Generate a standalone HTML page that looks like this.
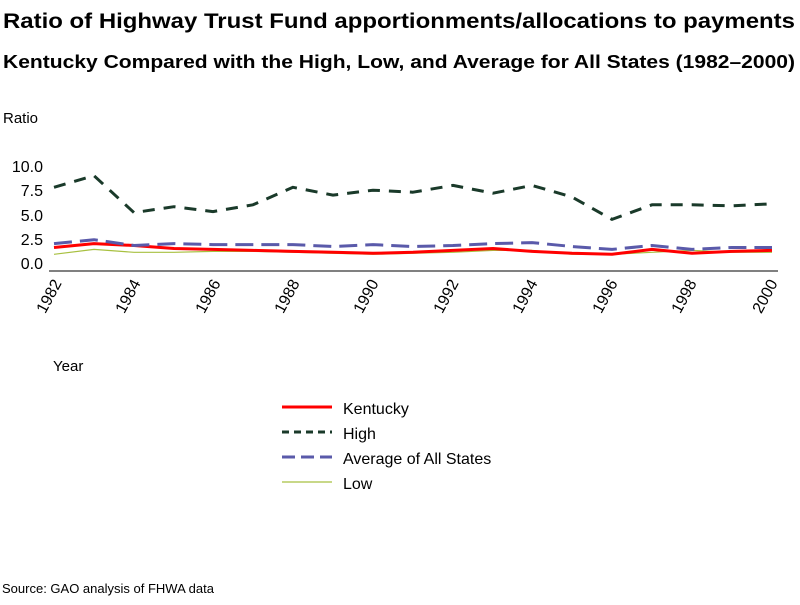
<!DOCTYPE html>
<html><head><meta charset="utf-8"><style>
body{margin:0;background:#fff;}
svg text{font-family:"Liberation Sans",sans-serif;fill:#000;}
</style></head><body>
<svg width="800" height="600" xmlns="http://www.w3.org/2000/svg">
<text x="3" y="28" font-size="21" font-weight="bold" textLength="792" lengthAdjust="spacingAndGlyphs">Ratio of Highway Trust Fund apportionments/allocations to payments</text>
<text x="3" y="68" font-size="18" font-weight="bold" textLength="792" lengthAdjust="spacingAndGlyphs">Kentucky Compared with the High, Low, and Average for All States (1982–2000)</text>
<text x="3" y="123" font-size="15">Ratio</text>
<g font-size="16" text-anchor="end">
<text x="43" y="172">10.0</text><text x="43" y="196">7.5</text><text x="43" y="221">5.0</text><text x="43" y="245">2.5</text><text x="43" y="269">0.0</text>
</g>
<line x1="49" y1="271" x2="778" y2="271" stroke="#000" stroke-width="1"/>
<g font-size="16" text-anchor="end">
<text transform="translate(62,283) rotate(-62)">1982</text>
<text transform="translate(141,283) rotate(-62)">1984</text>
<text transform="translate(221,283) rotate(-62)">1986</text>
<text transform="translate(300,283) rotate(-62)">1988</text>
<text transform="translate(379,283) rotate(-62)">1990</text>
<text transform="translate(459,283) rotate(-62)">1992</text>
<text transform="translate(538,283) rotate(-62)">1994</text>
<text transform="translate(618,283) rotate(-62)">1996</text>
<text transform="translate(697,283) rotate(-62)">1998</text>
<text transform="translate(778,283) rotate(-62)">2000</text>
</g>
<text x="53" y="371" font-size="15">Year</text>
<g fill="none" stroke-linejoin="round">
<polyline stroke="#a8c040" stroke-width="1.2" points="54,254.3 94,249.4 134,252.3 174,252.3 213,251.4 253,251.4 293,252.3 333,253.3 373,254.3 413,253.3 453,252.3 493,250.4 532,250.4 572,254.3 612,254.3 652,252.3 692,250.4 732,252.3 772,252.3"/>
<polyline stroke="#ff0000" stroke-width="3" points="54,247.5 94,243.6 134,245.5 174,248.5 213,249.4 253,250.4 293,251.4 333,252.3 373,253.3 413,252.3 453,250.4 493,248.5 532,251.4 572,253.3 612,254.3 652,249.4 692,253.3 732,251.4 772,250.4"/>
<polyline stroke="#5a5aaa" stroke-width="3" stroke-dasharray="18,8" points="54,243.6 94,239.7 134,245.5 174,243.6 213,244.6 253,244.6 293,244.6 333,246.5 373,244.6 413,246.5 453,245.5 493,243.6 532,242.6 572,246.5 612,249.4 652,245.5 692,249.4 732,247.5 772,247.5"/>
<polyline stroke="#1a3a2a" stroke-width="3" stroke-dasharray="12,9" points="54,187.3 94,175.7 134,212.6 174,206.7 213,211.6 253,204.8 293,187.3 333,195.1 373,190.2 413,192.2 453,185.4 493,193.2 532,185.4 572,197.0 612,219.4 652,204.8 692,204.8 732,205.8 772,203.8"/>
</g>
<g fill="none">
<line x1="282" y1="407" x2="332" y2="407" stroke="#ff0000" stroke-width="3"/>
<line x1="282" y1="432" x2="332" y2="432" stroke="#1a3a2a" stroke-width="3" stroke-dasharray="7,5"/>
<line x1="282" y1="457" x2="332" y2="457" stroke="#5a5aaa" stroke-width="3" stroke-dasharray="13,6"/>
<line x1="282" y1="482" x2="332" y2="482" stroke="#a8c040" stroke-width="1.2"/>
</g>
<g font-size="16">
<text x="343" y="414">Kentucky</text>
<text x="343" y="439">High</text>
<text x="343" y="464">Average of All States</text>
<text x="343" y="489">Low</text>
</g>
<text x="2" y="593" font-size="13">Source: GAO analysis of FHWA data</text>
</svg>
</body></html>
